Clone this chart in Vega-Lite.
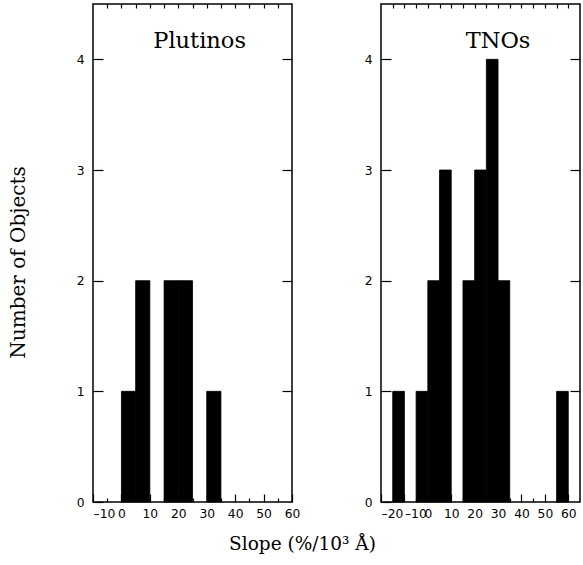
{
  "$schema": "https://vega.github.io/schema/vega-lite/v6.json",
  "padding": {"left": 7, "top": 2, "right": 2, "bottom": 0},
  "bounds": "flush",
  "spacing": 89,
  "config": {
    "view": {"stroke": "black", "strokeWidth": 1.5},
    "axis": {
      "domain": false, "grid": false, "tickColor": "black", "tickWidth": 1.2,
      "labelFont": "DejaVu Sans", "labelFontSize": 12.3, "labelColor": "black",
      "labelOverlap": false, "labelFlush": false, "minExtent": 0,
      "titleFont": "DejaVu Serif", "titleFontSize": 18.5, "titleFontWeight": "normal", "titleColor": "black",
      "zindex": 0
    }
  },
  "hconcat": [
    {
      "width": 199, "height": 498,
      "layer": [
        {
          "data": {"values": [
            {"lo": 0, "hi": 5, "n": 1},
            {"lo": 5, "hi": 10, "n": 2},
            {"lo": 15, "hi": 20, "n": 2},
            {"lo": 20, "hi": 25, "n": 2},
            {"lo": 30, "hi": 35, "n": 1}
          ]},
          "mark": {"type": "bar", "color": "black", "stroke": "black", "strokeWidth": 0.8},
          "encoding": {
            "x": {"field": "lo", "type": "quantitative",
              "scale": {"domain": [-10, 60], "nice": false, "zero": false},
              "axis": {"orient": "bottom", "values": [-10, 0, 10, 20, 30, 40, 50, 60], "tickSize": -8, "labelPadding": 13,
                "labelExpr": "datum.value < 0 ? '–' + abs(datum.value) : datum.label",
                "labelAlign": {"condition": {"test": "datum.value < 0", "value": "left"}, "value": "center"},
                "title": "Slope (%/10³ Å)", "titleX": 209, "titleY": 47, "titleBaseline": "alphabetic", "titleAlign": "center"}},
            "x2": {"field": "hi"},
            "y": {"field": "n", "type": "quantitative",
              "scale": {"domain": [0, 4.5], "nice": false},
              "axis": {"orient": "left", "values": [0, 1, 2, 3, 4], "tickSize": -10, "labelPadding": 19,
                "title": "Number of Objects", "titlePadding": 48, "titleFontSize": 20, "titleY": 258}},
            "y2": {"datum": 0}
          }
        },
        {
          "data": {"values": [{"x": 27.5, "y": 4.1, "label": "Plutinos"}]},
          "mark": {"type": "text", "font": "DejaVu Serif", "fontSize": 22.5, "baseline": "alphabetic", "align": "center", "color": "black"},
          "encoding": {
            "x": {"field": "x", "type": "quantitative",
              "scale": {"domain": [-10, 60], "nice": false, "zero": false},
              "axis": {"orient": "top", "values": [-5, 0, 5, 10, 15, 20, 25, 30, 35, 40, 45, 50, 55], "tickSize": -4, "labels": false, "title": null}},
            "y": {"field": "y", "type": "quantitative",
              "scale": {"domain": [0, 4.5], "nice": false},
              "axis": {"orient": "right", "values": [1, 2, 3, 4], "tickSize": -10, "labels": false, "title": null}},
            "text": {"field": "label"}
          }
        },
        {
          "data": {"values": [{"x": 27, "y": 4.08, "label": ""}]},
          "mark": {"type": "text", "color": "black"},
          "encoding": {
            "x": {"field": "x", "type": "quantitative",
              "scale": {"domain": [-10, 60], "nice": false, "zero": false},
              "axis": {"orient": "bottom", "values": [-5, 5, 15, 25, 35, 45, 55], "tickSize": -4, "labels": false, "title": null}},
            "text": {"field": "label"}
          }
        }
      ],
      "resolve": {"axis": {"x": "independent", "y": "independent"}}
    },
    {
      "width": 199, "height": 498,
      "layer": [
        {
          "data": {"values": [
            {"lo": -15, "hi": -10, "n": 1},
            {"lo": -5, "hi": 0, "n": 1},
            {"lo": 0, "hi": 5, "n": 2},
            {"lo": 5, "hi": 10, "n": 3},
            {"lo": 15, "hi": 20, "n": 2},
            {"lo": 20, "hi": 25, "n": 3},
            {"lo": 25, "hi": 30, "n": 4},
            {"lo": 30, "hi": 35, "n": 2},
            {"lo": 55, "hi": 60, "n": 1}
          ]},
          "mark": {"type": "bar", "color": "black", "stroke": "black", "strokeWidth": 0.8},
          "encoding": {
            "x": {"field": "lo", "type": "quantitative",
              "scale": {"domain": [-20, 65], "nice": false, "zero": false},
              "axis": {"orient": "bottom", "values": [-20, -10, 0, 10, 20, 30, 40, 50, 60], "tickSize": -8, "labelPadding": 13,
                "labelExpr": "datum.value < 0 ? '–' + abs(datum.value) : datum.label",
                "labelAlign": {"condition": {"test": "datum.value < 0", "value": "left"}, "value": "center"},
                "title": null}},
            "x2": {"field": "hi"},
            "y": {"field": "n", "type": "quantitative",
              "scale": {"domain": [0, 4.5], "nice": false},
              "axis": {"orient": "left", "values": [0, 1, 2, 3, 4], "tickSize": -10, "labelPadding": 19, "title": null}},
            "y2": {"datum": 0}
          }
        },
        {
          "data": {"values": [{"x": 30, "y": 4.1, "label": "TNOs"}]},
          "mark": {"type": "text", "font": "DejaVu Serif", "fontSize": 22.5, "baseline": "alphabetic", "align": "center", "color": "black"},
          "encoding": {
            "x": {"field": "x", "type": "quantitative",
              "scale": {"domain": [-20, 65], "nice": false, "zero": false},
              "axis": {"orient": "top", "values": [-15, -10, -5, 0, 5, 10, 15, 20, 25, 30, 35, 40, 45, 50, 55, 60], "tickSize": -4, "labels": false, "title": null}},
            "y": {"field": "y", "type": "quantitative",
              "scale": {"domain": [0, 4.5], "nice": false},
              "axis": {"orient": "right", "values": [1, 2, 3, 4], "tickSize": -10, "labels": false, "title": null}},
            "text": {"field": "label"}
          }
        },
        {
          "data": {"values": [{"x": 29.5, "y": 4.08, "label": ""}]},
          "mark": {"type": "text", "color": "black"},
          "encoding": {
            "x": {"field": "x", "type": "quantitative",
              "scale": {"domain": [-20, 65], "nice": false, "zero": false},
              "axis": {"orient": "bottom", "values": [-15, -5, 5, 15, 25, 35, 45, 55], "tickSize": -4, "labels": false, "title": null}},
            "text": {"field": "label"}
          }
        }
      ],
      "resolve": {"axis": {"x": "independent", "y": "independent"}}
    }
  ]
}
